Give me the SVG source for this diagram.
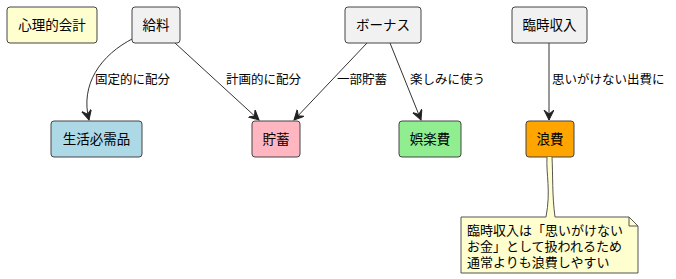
<svg xmlns="http://www.w3.org/2000/svg" width="676" height="279" viewBox="0 0 676 279">
<style>
  text { font-family: "Noto Sans CJK JP", "Noto Sans", sans-serif; fill: #000; }
  .nt { font-size: 13.5px; text-anchor: middle; }
  .lb { font-size: 12.5px; }
  .nb { font-size: 13px; font-family: "Liberation Sans", "Noto Sans CJK JP", sans-serif; }
  .node { stroke: #444; stroke-width: 1; }
  .edge { fill: none; stroke: #333; stroke-width: 1; }
</style>
<defs>
  <marker id="arr" markerWidth="12" markerHeight="12" refX="10" refY="5" orient="auto" markerUnits="userSpaceOnUse">
    <path d="M0,0 L10,5 L0,10 L4,5 Z" fill="#222" stroke="#222" stroke-width="1"/>
  </marker>
</defs>
<rect width="676" height="279" fill="#ffffff"/>

<g id="title">
  <rect class="node" x="7" y="7" width="90" height="36" rx="3" fill="#FEFECE"/>
  <text class="nt" x="52" y="30">心理的会計</text>
</g>

<g id="connectors">
  <path class="edge" d="M134,38 C100,55 80,85 89,120" marker-end="url(#arr)"/>
  <text class="lb" x="95" y="84">固定的に配分</text>
  <path class="edge" d="M175,43 L259,120" marker-end="url(#arr)"/>
  <text class="lb" x="226" y="84">計画的に配分</text>
  <path class="edge" d="M367,43 L294,120" marker-end="url(#arr)"/>
  <text class="lb" x="337" y="84">一部貯蓄</text>
  <path class="edge" d="M390,43 L421,120" marker-end="url(#arr)"/>
  <text class="lb" x="410" y="84">楽しみに使う</text>
  <path class="edge" d="M549,43 L549,120" marker-end="url(#arr)"/>
  <text class="lb" x="552" y="84">思いがけない出費に</text>
</g>

<g id="kyuryo">
  <rect class="node" x="132" y="7" width="48" height="36" rx="3" fill="#F1F1F1"/>
  <text class="nt" x="156" y="30">給料</text>
</g>
<g id="bonus">
  <rect class="node" x="345" y="7" width="76" height="36" rx="3" fill="#F1F1F1"/>
  <text class="nt" x="383" y="30">ボーナス</text>
</g>
<g id="rinji">
  <rect class="node" x="512" y="7" width="75" height="36" rx="3" fill="#F1F1F1"/>
  <text class="nt" x="549.500" y="30">臨時収入</text>
</g>
<g id="seikatsu">
  <rect class="node" x="51" y="121" width="91" height="36" rx="3" fill="#ADD8E6"/>
  <text class="nt" x="96.500" y="144">生活必需品</text>
</g>
<g id="chochiku">
  <rect class="node" x="252" y="121" width="48" height="36" rx="3" fill="#FFB6C1"/>
  <text class="nt" x="276" y="144">貯蓄</text>
</g>
<g id="goraku">
  <rect class="node" x="399" y="121" width="62" height="36" rx="3" fill="#90EE90"/>
  <text class="nt" x="430" y="144">娯楽費</text>
</g>
<g id="rouhi">
  <rect class="node" x="526" y="121" width="48" height="36" rx="3" fill="#FFA500"/>
  <text class="nt" x="550" y="144">浪費</text>
</g>

<g id="note">
  <path d="M547,157 C546,175 551,190 546,217 L461,217 L461,273 L638,273 L638,226 L629,217 L555,217 C552,195 553,175 552,157" fill="#FEFECE" stroke="#555" stroke-width="1"/>
  <path d="M629,217 L629,226 L638,226" fill="none" stroke="#555" stroke-width="1"/>
  <text class="nb" x="467" y="235">臨時収入は「思いがけない</text>
  <text class="nb" x="467" y="251">お金」として扱われるため</text>
  <text class="nb" x="467" y="267">通常よりも浪費しやすい</text>
</g>
</svg>
